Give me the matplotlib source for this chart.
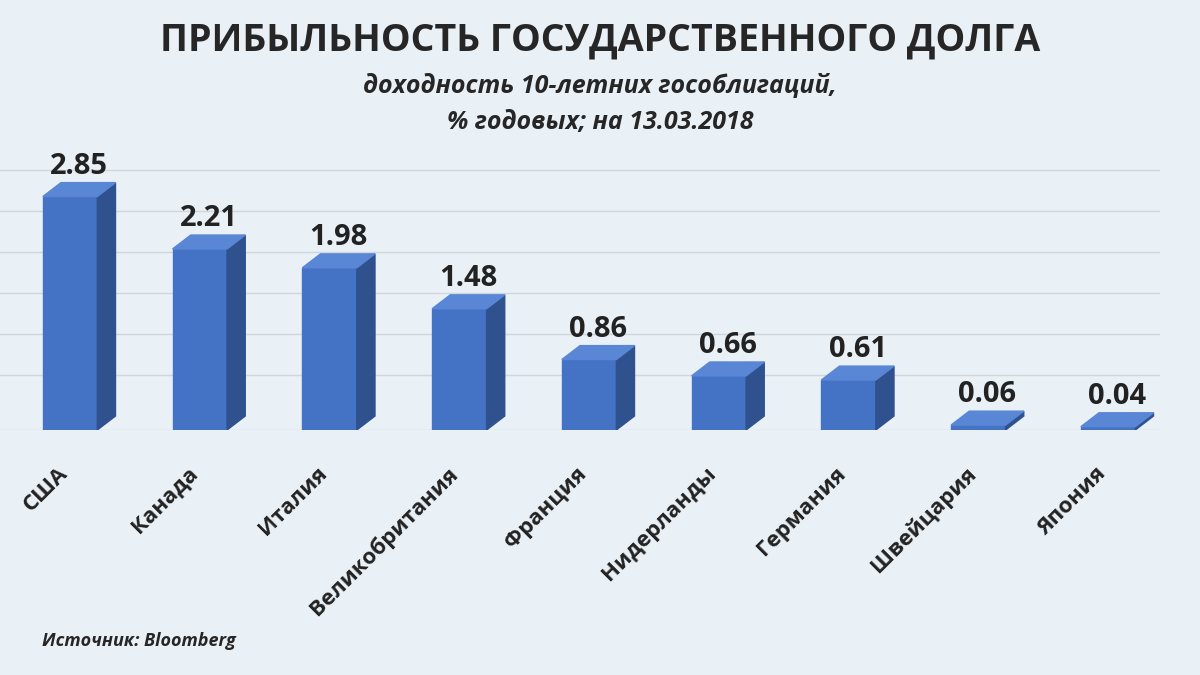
import matplotlib.pyplot as plt
from matplotlib.patches import Polygon

countries = ['США', 'Канада', 'Италия', 'Великобритания', 'Франция',
             'Нидерланды', 'Германия', 'Швейцария', 'Япония']
yields = [2.85, 2.21, 1.98, 1.48, 0.86, 0.66, 0.61, 0.06, 0.04]

bg = '#eaf1f6'
front = '#4472c4'
side = '#2f528f'
top = '#5a86d6'

plt.rcParams['font.family'] = ['Open Sans', 'DejaVu Sans']

fig = plt.figure(figsize=(12, 6.75), dpi=100, facecolor=bg)
ax = fig.add_axes([0, 0.363, 1160 / 1200, 0.415])
ax.set_facecolor(bg)
ax.set_xlim(-0.54, 8.4)
ax.set_ylim(0, 3.42)

for g in [0.5, 1.0, 1.5, 2.0, 2.5, 3.0]:
    ax.axhline(g + 0.17, color='#d0d6dc', lw=1, zorder=0)
ax.axhline(0.0, color='#d0d6dc', lw=1, zorder=0)

w = 0.42
dx, dy = 0.14, 0.17
for i, v in enumerate(yields):
    x0 = i - w / 2
    x1 = i + w / 2
    ax.add_patch(Polygon([(x0, 0), (x1, 0), (x1, v), (x0, v)], color=front, zorder=3))
    ax.add_patch(Polygon([(x1, 0), (x1 + dx, dy), (x1 + dx, v + dy), (x1, v)], color=side, zorder=3))
    ax.add_patch(Polygon([(x0, v), (x1, v), (x1 + dx, v + dy), (x0 + dx, v + dy)], color=top, zorder=3))
    ax.text(i + dx / 2, v + dy + 0.02, f'{v:.2f}', ha='center', va='bottom',
            fontsize=21, fontweight='bold', color='#222222')
    ax.text(i - 0.1, -0.4, countries[i], rotation=45, ha='right', va='top',
            fontsize=16, fontweight='bold', color='#222222', rotation_mode='anchor')

ax.axis('off')

fig.text(0.5, 0.94, 'ПРИБЫЛЬНОСТЬ ГОСУДАРСТВЕННОГО ДОЛГА', ha='center', va='center',
         fontsize=27, fontweight='bold', color='#262626')
fig.text(0.5, 0.872, 'доходность 10-летних гособлигаций,', ha='center', va='center',
         fontsize=18, fontweight='bold', style='italic', color='#262626')
fig.text(0.5, 0.818, '% годовых; на 13.03.2018', ha='center', va='center',
         fontsize=18, fontweight='bold', style='italic', color='#262626')
fig.text(0.035, 0.05, 'Источник: Bloomberg', ha='left', va='center',
         fontsize=13, fontweight='bold', style='italic', color='#262626')

fig.savefig('out.png', dpi=100, facecolor=bg)
